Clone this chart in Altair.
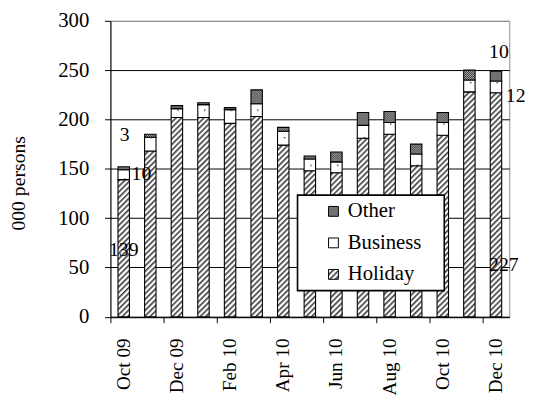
import altair as alt
import pandas as pd
import jinja2

# ---------------- data ----------------
months = ["Oct 09", "Nov 09", "Dec 09", "Jan 10", "Feb 10", "Mar 10", "Apr 10", "May 10",
          "Jun 10", "Jul 10", "Aug 10", "Sep 10", "Oct 10", "Nov 10", "Dec 10"]
holiday = [139, 168, 202, 202, 196, 203, 174, 148, 146, 181, 185, 153, 184, 228, 227]
business = [10, 14, 9, 13, 14, 13, 14, 12, 11, 13, 12, 12, 13, 12, 12]
other = [3, 3, 3, 2, 2, 14, 4, 3, 10, 13, 11, 10, 10, 10, 10]

stack_order = ["Holiday", "Business", "Other"]      # bottom -> top
legend_order = ["Other", "Business", "Holiday"]     # legend top -> bottom
y_ticks = [0, 50, 100, 150, 200, 250, 300]

# data labels as placed on the original chart
label_months = ["Oct 09", "Oct 09", "Oct 09", "Dec 10", "Dec 10", "Dec 10"]
label_texts = ["139", "10", "3", "227", "12", "10"]
label_values = [67.5, 145, 184, 52, 224, 268]
label_dx = [0, 18, 1, 8, 20, 3]

# ---------------- tables ----------------
rows = []
for i, m in enumerate(months):
    for k, (name, vals) in enumerate(zip(stack_order, [holiday, business, other])):
        rows.append({"month": m, "series": name, "value": vals[i], "ord": k})
df = pd.DataFrame(rows)

FONT = "Liberation Serif"
FS = 20

x_scale = alt.Scale(domain=months, paddingInner=0, paddingOuter=0)
y_scale = alt.Scale(domain=[0, 300], nice=False)

x_axis = alt.Axis(values=months[::2], bandPosition=0, tickExtra=False,
                  labelAngle=270, labelPadding=15.5, labelFontSize=19.5, tickSize=6,
                  title=None, grid=False)
y_axis = alt.Axis(values=y_ticks, title="000 persons", grid=True,
                  gridColor={"condition": {"test": "datum.value >= 300", "value": "#8c8c8c"},
                             "value": "black"},
                  labelPadding=16, labelFontSize=21, tickSize=6,
                  titleAngle=270, titleX=-93, titleY=164.5,
                  titleBaseline="middle", titleAlign="center",
                  titleFontWeight="normal", titleFontSize=FS)

bars = alt.Chart(df).mark_bar(
    width=alt.RelativeBandSize(0.43), stroke="black", strokeWidth=1.1
).encode(
    x=alt.X("month:N", scale=x_scale, axis=x_axis),
    y=alt.Y("value:Q", stack="zero", scale=y_scale, axis=y_axis),
    color=alt.Color("series:N",
                    scale=alt.Scale(domain=legend_order,
                                    range=["url(#pOth)", "url(#pBus)", "url(#pHol)"]),
                    legend=alt.Legend(orient="none", legendX=190, legendY=177,
                                      title=".", titleOrient="right", titleColor="white",
                                      titleFontSize=20, titlePadding=12,
                                      fillColor="white", strokeColor="black", padding=6,
                                      symbolType="square", symbolSize=100,
                                      symbolStrokeColor="black", symbolStrokeWidth=1,
                                      symbolOffset=20, labelOffset=4,
                                      labelFont=FONT, labelFontSize=21, labelColor="black",
                                      rowPadding=10)),
    order=alt.Order("ord:Q", sort="ascending"),
)

layers = [bars]
for m, t, v, dx in zip(label_months, label_texts, label_values, label_dx):
    ldf = pd.DataFrame([{"month": m, "t": t, "value": v}])
    layers.append(
        alt.Chart(ldf).mark_text(dx=dx, font=FONT, fontSize=FS, color="black",
                                 align="center", baseline="middle").encode(
            x=alt.X("month:N", scale=x_scale, axis=x_axis),
            y=alt.Y("value:Q", scale=y_scale, axis=y_axis),
            text="t:N",
        )
    )

chart = alt.layer(*layers).properties(
    width=405, height=300.5,
    autosize="none",
    padding={"left": 104, "top": 10, "right": 17, "bottom": 80},
).configure(font=FONT).configure_axis(
    labelFont=FONT, labelColor="black",
    titleFont=FONT, titleColor="black",
    domainColor="black", tickColor="black", domainWidth=1, tickWidth=1, gridWidth=1,
).configure_view(stroke="#8c8c8c", strokeWidth=1).configure_legend(strokeWidth=1.6)

# ---------------- fill patterns (hatching like the original) ----------------
DEFS = (
    '<svg width="0" height="0" style="position:absolute;left:0;top:0" aria-hidden="true"><defs>'
    '<pattern id="pHol" width="4" height="4" patternUnits="userSpaceOnUse" patternTransform="rotate(45)">'
    '<rect width="4" height="4" fill="#ffffff"/><rect width="1.6" height="4" fill="#3a3a3a"/></pattern>'
    '<pattern id="pBus" width="9" height="14" patternUnits="userSpaceOnUse">'
    '<rect width="9" height="14" fill="#ffffff"/><rect x="5" y="6" width="1.4" height="1.4" fill="#333333"/></pattern>'
    '<pattern id="pOth" width="2" height="2" patternUnits="userSpaceOnUse">'
    '<rect width="2" height="2" fill="#b4b4b4"/><rect width="1" height="1" fill="#303030"/>'
    '<rect x="1" y="1" width="1" height="1" fill="#303030"/></pattern>'
    '</defs></svg>'
)

try:
    from altair.utils.html import HTML_TEMPLATE as _BASE
except Exception:
    from altair.utils.html import TEMPLATES as _T
    _BASE = _T["standard"]


class PatternTemplate(jinja2.Template):
    def render(self, *args, **kwargs):
        html = _BASE.render(*args, **kwargs)
        if "<body>" in html:
            return html.replace("<body>", "<body>" + DEFS, 1)
        return DEFS + html


chart.save("out.html", embed_options={"renderer": "svg", "actions": False},
           template=PatternTemplate(""))
